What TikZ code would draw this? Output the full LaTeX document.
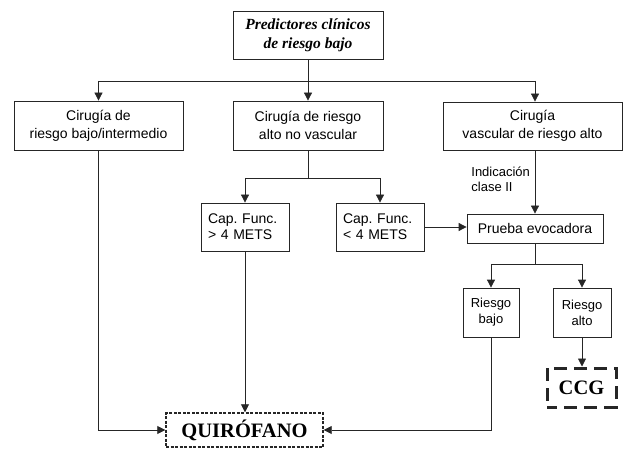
\documentclass[tikz,border=0pt]{standalone}
\usepackage{fontspec}
\setmainfont{Liberation Serif}
\setsansfont{Liberation Sans}
\usetikzlibrary{arrows.meta}
\frenchspacing
\begin{document}
\begin{tikzpicture}[x=1pt,y=-1pt,
  line width=0.8pt, draw=black!85,
  box/.style={draw, inner sep=0pt, align=center, font=\sffamily\fontsize{14}{18}\selectfont},
  lbox/.style={draw, inner xsep=7pt, inner ysep=0pt, align=left, text width=74pt, minimum height=48pt, font=\sffamily\fontsize{14}{16}\selectfont},
  sbox/.style={draw, inner sep=0pt, align=center, minimum height=49pt, font=\sffamily\fontsize{13}{16}\selectfont},
  arr/.style={-{Triangle[length=8pt,width=8pt]}},
]
\useasboundingbox (0,0) rectangle (624,449);

\node[box, minimum width=150pt, minimum height=48pt, font=\rmfamily\bfseries\itshape\fontsize{15.5}{19}\selectfont] (top) at (308,35) {Predictores clínicos\\de riesgo bajo};
\node[box, minimum width=169pt, minimum height=49pt] (b1) at (98.5,125.5) {Cirugía de\\riesgo bajo/intermedio};
\node[box, minimum width=150pt, minimum height=49pt] (b2) at (308,125.5) {Cirugía de riesgo\\alto no vascular};
\node[box, minimum width=179pt, minimum height=48pt] (b3) at (532.5,126) {Cirugía\\vascular de riesgo alto};

\node[lbox] (c1) at (245,227) {Cap. Func.\\> 4 METS};
\node[lbox] (c2) at (380,227) {Cap. Func.\\< 4 METS};
\node[box, minimum width=136pt, minimum height=29pt] (pe) at (535,228.5) {Prueba evocadora};

\node[anchor=west, align=left, inner sep=0pt, font=\sffamily\fontsize{13}{15}\selectfont] (ind) at (471,179.5) {Indicación\\clase II};

\node[sbox, minimum width=56pt] (rb) at (491,312.5) {Riesgo\\bajo};
\node[sbox, minimum width=58pt] (ra) at (582,312.5) {Riesgo\\alto};

\node[draw, line width=3pt, dash pattern=on 13pt off 7pt, dash phase=3pt, inner sep=0pt, minimum width=69pt, minimum height=39pt, font=\rmfamily\bfseries\fontsize{20.5}{24}\selectfont] (ccg) at (581.5,387.5) {CCG};
\node[draw, line width=1.4pt, dash pattern=on 3pt off 1.5pt, inner sep=0pt, minimum width=157pt, minimum height=34pt, font=\rmfamily\bfseries\fontsize{20.5}{24}\selectfont] (qf) at (244.5,430) {QUIRÓFANO};

% connectors
\coordinate (h1) at (98.5,81);
\coordinate (hm) at (308,81);
\coordinate (h3) at (535,81);
\draw (top.south) -- (hm);
\draw (h1) -- (h3);
\draw[arr] (h1) -- (b1.north);
\draw[arr] (hm) -- (b2.north);
\draw[arr] (h3) -- (h3 |- b3.north);

\coordinate (s2) at (308,178);
\coordinate (s2l) at (245,178);
\coordinate (s2r) at (380,178);
\draw (b2.south) -- (s2);
\draw (s2l) -- (s2r);
\draw[arr] (s2l) -- (c1.north);
\draw[arr] (s2r) -- (c2.north);

\draw[arr] (c2.east) -- (c2.east -| pe.west);
\draw[arr] (b3.south -| pe.north) -- (pe.north);

\coordinate (s4) at (535,264);
\coordinate (s4l) at (491,264);
\coordinate (s4r) at (582,264);
\draw (pe.south) -- (s4);
\draw (s4l) -- (s4r);
\draw[arr] (s4l) -- (rb.north);
\draw[arr] (s4r) -- (ra.north);

\draw[arr] (ra.south) -- (ra.south |- ccg.north);
\draw[arr] (c1.south) -- (c1.south |- qf.north);
\draw[arr] (b1.south) |- (qf.west);
\draw[arr] (rb.south) |- (qf.east);
\end{tikzpicture}
\end{document}
